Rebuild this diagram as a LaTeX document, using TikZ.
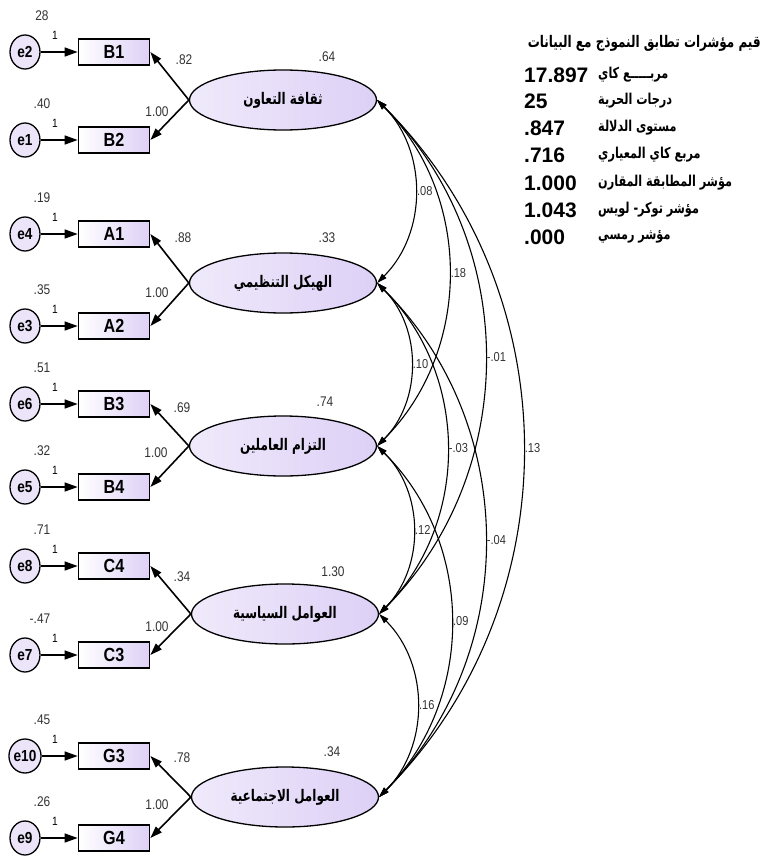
\documentclass[tikz,border=0pt]{standalone}
\usepackage{fontspec}
\setmainfont{Liberation Sans}
\newfontfamily\narrowfont[FakeStretch=0.85]{Liberation Sans}
\newfontfamily\arabicfont[Script=Arabic,FakeStretch=0.75]{DejaVu Sans}
\TeXXeTstate=1
\usetikzlibrary{shapes.geometric,arrows.meta}
\definecolor{lav}{RGB}{221,208,246}
\newcommand{\ar}[1]{{\arabicfont\bfseries\beginR #1\endR}}

\begin{document}
\begin{tikzpicture}[x=1pt,y=1pt,
  latent/.style={ellipse,draw,line width=1.3pt,minimum width=187pt,minimum height=60pt,inner sep=0pt,
    left color=lav!45,right color=lav,font=\fontsize{16}{16}\selectfont},
  obs/.style={rectangle,draw,line width=1.7pt,minimum width=71pt,minimum height=26pt,inner sep=0pt,
    left color=white,right color=lav,font=\narrowfont\bfseries\fontsize{19}{19}\selectfont},
  err/.style={ellipse,draw,line width=1.3pt,minimum width=30pt,minimum height=34pt,inner sep=0pt,
    fill=lav!55,font=\narrowfont\bfseries\fontsize{16}{16}\selectfont},
  num/.style={inner sep=0pt,text=black!80,font=\narrowfont\fontsize{14}{14}\selectfont},
  one/.style={inner sep=0pt,font=\narrowfont\fontsize{12}{12}\selectfont},
  errpath/.style={line width=1.4pt,-{Triangle[length=13pt,width=9pt]}},
  loadpath/.style={line width=1.6pt,-{Triangle[length=12pt,width=8pt]}},
  covpath/.style={line width=1.1pt,{Triangle[length=10pt,width=6pt]}-{Triangle[length=10pt,width=6pt]},bend left=45},
  covlbl/.style={midway,right,inner sep=1.5pt,text=black!80,font=\narrowfont\fontsize{13}{13}\selectfont},
  fitnum/.style={anchor=west,inner sep=0pt,font=\bfseries\fontsize{21}{21}\selectfont},
  fitlbl/.style={anchor=west,inner sep=0pt,font=\fontsize{15}{15}\selectfont}]
  \useasboundingbox (0,0) rectangle (764,-859);

  % latent variables
  \draw (283,-100) node[latent] (cult) {\ar{ثقافة التعاون}};
  \draw (283,-283) node[latent] (struct) {\ar{الهيكل التنظيمي}};
  \draw (283,-446) node[latent] (commit) {\ar{التزام العاملين}};
  \draw (285,-614) node[latent] (polit) {\ar{العوامل السياسية}};
  \draw (285,-797) node[latent] (social) {\ar{العوامل الاجتماعية}};
  \draw (327,-57) node[num] {.64};
  \draw (327,-238) node[num] {.33};
  \draw (325,-402) node[num] {.74};
  \draw (333,-572) node[num] {1.30};
  \draw (332,-752) node[num] {.34};

  % indicators and errors
  \draw (114,-52) node[obs] (b1) {B1};
  \draw (114,-140) node[obs] (b2) {B2};
  \draw (114,-234) node[obs] (a1) {A1};
  \draw (114,-326) node[obs] (a2) {A2};
  \draw (114,-404) node[obs] (b3) {B3};
  \draw (114,-487) node[obs] (b4) {B4};
  \draw (114,-566) node[obs] (c4) {C4};
  \draw (114,-655) node[obs] (c3) {C3};
  \draw (114,-756) node[obs] (g3) {G3};
  \draw (114,-838) node[obs] (g4) {G4};

  \draw (25,-52) node[err] (e2) {e2};
  \draw (25,-140) node[err] (e1) {e1};
  \draw (25,-234) node[err] (e4) {e4};
  \draw (25,-326) node[err] (e3) {e3};
  \draw (25,-404) node[err] (e6) {e6};
  \draw (25,-487) node[err] (e5) {e5};
  \draw (25,-566) node[err] (e8) {e8};
  \draw (25,-655) node[err] (e7) {e7};
  \draw (25,-756) node[err] (e10) {e10};
  \draw (25,-838) node[err] (e9) {e9};

  \draw (42,-16) node[num] {28};      \draw (55,-35) node[one] {1};
  \draw (42,-104) node[num] {.40};    \draw (55,-123) node[one] {1};
  \draw (42,-198) node[num] {.19};    \draw (55,-217) node[one] {1};
  \draw (42,-290) node[num] {.35};    \draw (55,-309) node[one] {1};
  \draw (42,-368) node[num] {.51};    \draw (55,-387) node[one] {1};
  \draw (42,-451) node[num] {.32};    \draw (55,-470) node[one] {1};
  \draw (42,-530) node[num] {.71};    \draw (55,-549) node[one] {1};
  \draw (40,-619) node[num] {-.47};   \draw (55,-638) node[one] {1};
  \draw (42,-720) node[num] {.45};    \draw (55,-739) node[one] {1};
  \draw (42,-802) node[num] {.26};    \draw (55,-821) node[one] {1};

  \path[errpath] (e2) edge (b1) (e1) edge (b2) (e4) edge (a1) (e3) edge (a2)
    (e6) edge (b3) (e5) edge (b4) (e8) edge (c4) (e7) edge (c3)
    (e10) edge (g3) (e9) edge (g4);

  % loadings
  \path[loadpath] (cult.west) edge (b1.east) (cult.west) edge (b2.east);
  \path[loadpath] (struct.west) edge (a1.east) (struct.west) edge (a2.east);
  \path[loadpath] (commit.west) edge (b3.east) (commit.west) edge (b4.east);
  \path[loadpath] (polit.west) edge (c4.east) (polit.west) edge (c3.east);
  \path[loadpath] (social.west) edge (g3.east) (social.west) edge (g4.east);
  \draw (184,-60) node[num] {.82};    \draw (157,-112) node[num] {1.00};
  \draw (183,-238) node[num] {.88};   \draw (157,-293) node[num] {1.00};
  \draw (182,-408) node[num] {.69};   \draw (156,-453) node[num] {1.00};
  \draw (182,-577) node[num] {.34};   \draw (157,-627) node[num] {1.00};
  \draw (182,-758) node[num] {.78};   \draw (157,-805) node[num] {1.00};

  % covariances
  \path[covpath] (cult.east) edge node[covlbl] {.08} (struct.east);
  \path[covpath] (cult.east) edge node[covlbl] {.18} (commit.east);
  \path[covpath] (cult.east) edge node[covlbl] {-.01} (polit.east);
  \path[covpath] (cult.east) edge node[covlbl] {.13} (social.east);
  \path[covpath] (struct.east) edge node[covlbl] {.10} (commit.east);
  \path[covpath] (struct.east) edge node[covlbl] {-.03} (polit.east);
  \path[covpath] (struct.east) edge node[covlbl] {-.04} (social.east);
  \path[covpath] (commit.east) edge node[covlbl] {.12} (polit.east);
  \path[covpath] (commit.east) edge node[covlbl] {.09} (social.east);
  \path[covpath] (polit.east) edge node[covlbl] {.16} (social.east);

  % fit indices
  \draw (761,-43) node[anchor=east,inner sep=0pt,font=\fontsize{16}{16}\selectfont] (fittitle) {\ar{قيم مؤشرات تطابق النموذج مع البيانات}};
  \draw (524,-75) node[fitnum] (chi) {17.897};   \draw (598,-75) node[fitlbl] {\ar{مربـــــع كاي}};
  \draw (524,-101) node[fitnum] (df) {25};       \draw (598,-101) node[fitlbl] {\ar{درجات الحرية}};
  \draw (524,-128) node[fitnum] (p) {.847};      \draw (598,-128) node[fitlbl] {\ar{مستوى الدلالة}};
  \draw (524,-155) node[fitnum] (cmin) {.716};   \draw (598,-155) node[fitlbl] {\ar{مربع كاي المعياري}};
  \draw (524,-183) node[fitnum] (cfi) {1.000};   \draw (598,-183) node[fitlbl] {\ar{مؤشر المطابقة المقارن}};
  \draw (524,-210) node[fitnum] (tli) {1.043};   \draw (598,-210) node[fitlbl] {\ar{مؤشر توكر- لويس}};
  \draw (524,-237) node[fitnum] (rmsea) {.000};  \draw (598,-237) node[fitlbl] {\ar{مؤشر رمسي}};
\end{tikzpicture}
\end{document}
